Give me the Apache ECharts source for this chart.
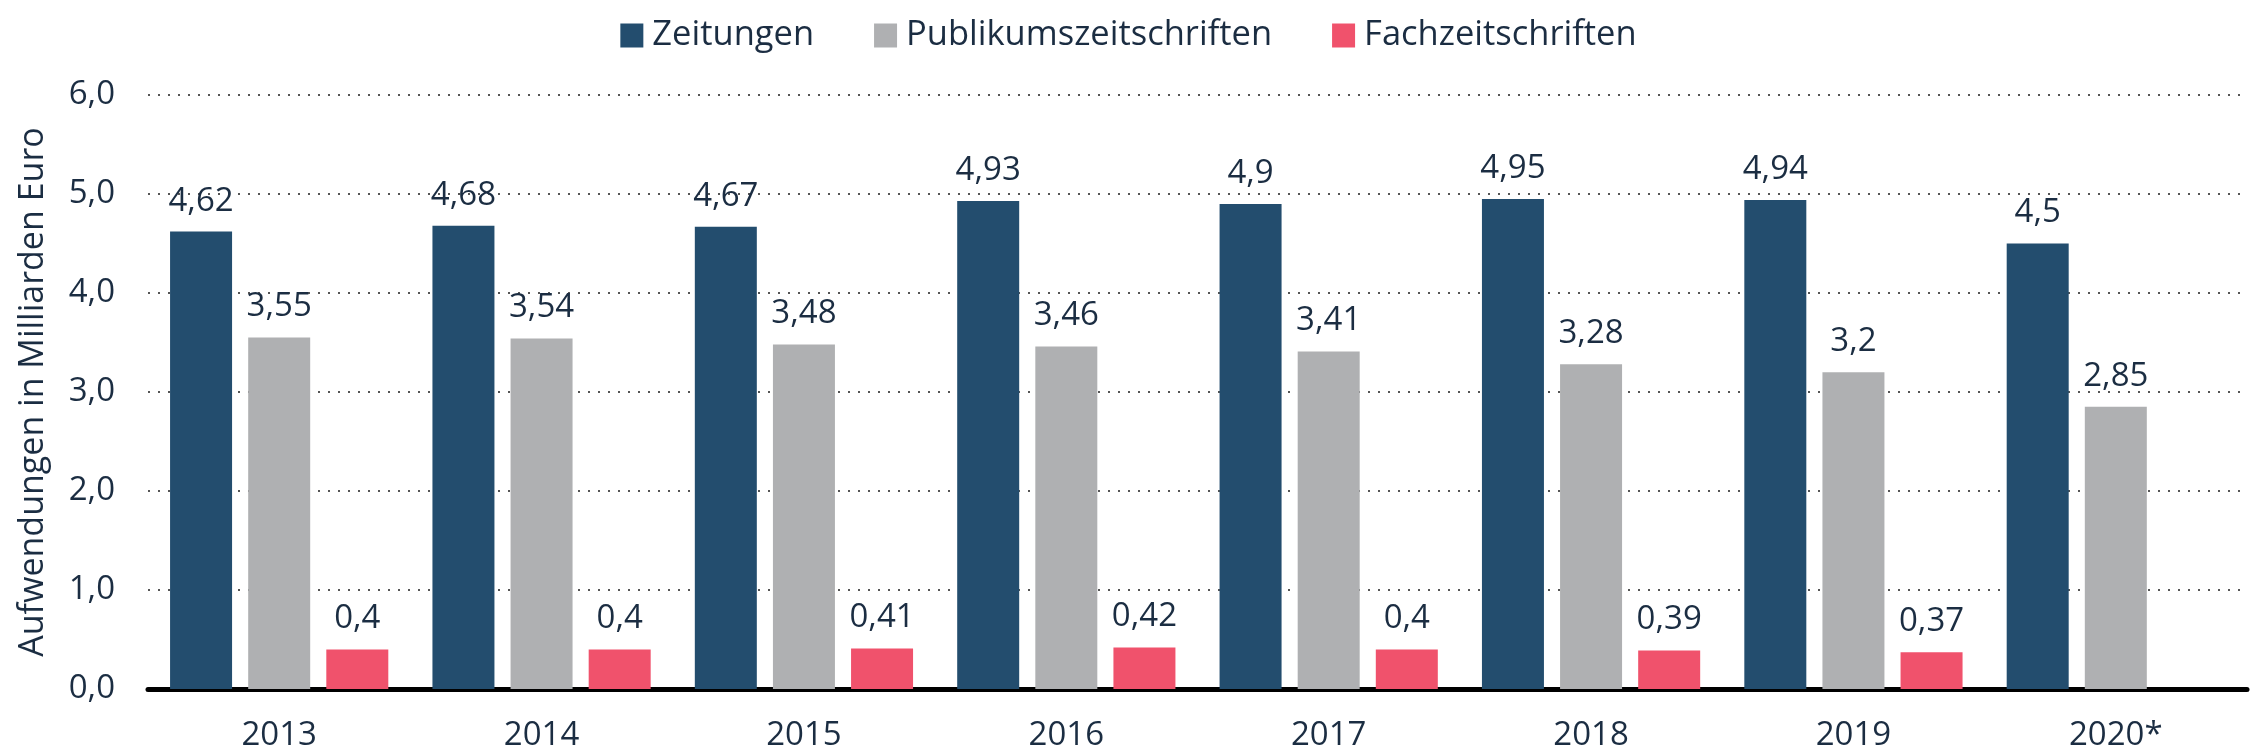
<!DOCTYPE html>
<html>
<head>
<meta charset="utf-8">
<script src="https://cdn.jsdelivr.net/npm/echarts@6/dist/echarts.min.js"></script>
<style>
  html, body { margin: 0; padding: 0; background: #fff; }
  #chart { width: 2257px; height: 755px; }
</style>
</head>
<body>
<div id="chart"></div>
<script>
    'use strict'

    /* Chart data */
    var years = ['2013', '2014', '2015', '2016', '2017', '2018', '2019', '2020*'];
    var zeitungen = [4.62, 4.68, 4.67, 4.93, 4.9, 4.95, 4.94, 4.5];
    var publikum = [3.55, 3.54, 3.48, 3.46, 3.41, 3.28, 3.2, 2.85];
    var fach = [0.4, 0.4, 0.41, 0.42, 0.4, 0.39, 0.37, null];

    var textColor = '#1b2d42';
    var font = 'Open Sans';

    function comma(v) {
        return String(v).replace('.', ',');
    }

    function barSeries(name, data) {
        return {
            name: name,
            type: 'bar',
            data: data,
            barWidth: 62,
            barGap: '26%',
            label: {
                show: true,
                position: 'top',
                distance: 14,
                color: textColor,
                fontFamily: font,
                fontSize: 33,
                formatter: function (p) { return comma(p.value); }
            }
        };
    }

    var chart = echarts.init(document.getElementById('chart'));

    chart.setOption({
        animation: false,
        color: ['#234d6e', '#afb0b2', '#f0526c'],
        textStyle: { fontFamily: font },
        legend: {
            top: 13,
            left: 'center',
            icon: 'rect',
            itemWidth: 23,
            itemHeight: 24,
            itemGap: 60,
            textStyle: { color: textColor, fontSize: 34.5, fontFamily: font, padding: [0, 0, 0, 4] },
            data: ['Zeitungen', 'Publikumszeitschriften', 'Fachzeitschriften']
        },
        grid: {
            top: 95,
            left: 148,
            right: 10,
            bottom: 66
        },
        xAxis: {
            type: 'category',
            data: years,
            axisLine: { lineStyle: { color: '#000', width: 5 } },
            axisTick: { show: false },
            axisLabel: {
                color: textColor,
                fontSize: 33,
                fontFamily: font,
                margin: 30
            }
        },
        yAxis: {
            type: 'value',
            min: 0,
            max: 6,
            interval: 1,
            name: 'Aufwendungen in Milliarden Euro',
            nameLocation: 'middle',
            nameGap: 98,
            nameTextStyle: { color: textColor, fontSize: 34, fontFamily: font },
            axisLine: { show: false },
            axisTick: { show: false },
            axisLabel: {
                color: textColor,
                fontSize: 33,
                fontFamily: font,
                margin: 33,
                formatter: function (v) { return v.toFixed(1).replace('.', ','); }
            },
            splitLine: {
                lineStyle: { color: '#555', type: [2, 8], width: 2 }
            }
        },
        series: [
            barSeries('Zeitungen', zeitungen),
            barSeries('Publikumszeitschriften', publikum),
            barSeries('Fachzeitschriften', fach)
        ]
    });
</script>
</body>
</html>
